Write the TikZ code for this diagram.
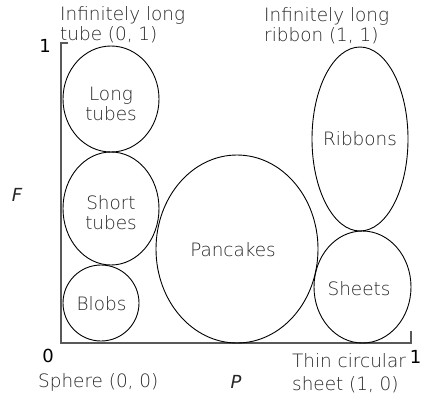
\documentclass[tikz,border=0pt]{standalone}
\usepackage{fontspec}
\setmainfont{DejaVu Sans}
\newfontfamily\lightfont{DejaVu Sans ExtraLight}
\begin{document}
\begin{tikzpicture}[x=1pt,y=-1pt,
  region/.style={draw=black,line width=0.9pt},
  lbl/.style={font=\lightfont\fontsize{18.4}{20}\selectfont,text=black!85,inner sep=0pt},
  axnum/.style={font=\fontsize{18}{20}\selectfont,text=black,inner sep=0pt},
  axvar/.style={font=\itshape\fontsize{18}{20}\selectfont,text=black!85,inner sep=0pt},
  axis/.style={draw=black!65,line width=1.3pt}]
\useasboundingbox (0,0) rectangle (422,400);
% axes
\coordinate (o) at (61,343);
\coordinate (ytop) at (61,43);
\coordinate (ytick) at (68,43);
\coordinate (xend) at (411,343);
\coordinate (xtick) at (411,331);
\draw[axis] (ytick) -- (ytop) -- (o) -- (xend) -- (xtick);
% regions
\draw[region] (111,99) ellipse[x radius=48,y radius=53];
\draw[region] (111,208.5) ellipse[x radius=48,y radius=56.5];
\draw[region] (101,303) ellipse[x radius=38,y radius=38];
\draw[region] (237,249) ellipse[x radius=81,y radius=94];
\draw[region] (360,139) ellipse[x radius=48,y radius=92];
\draw[region] (362.5,287) ellipse[x radius=48.5,y radius=56];
% region labels
\node[lbl,anchor=base] (lt1) at (111,100) {Long};
\node[lbl,anchor=base] (lt2) at (111,120) {tubes};
\node[lbl,anchor=base] (st1) at (111,209) {Short};
\node[lbl,anchor=base] (st2) at (111,229) {tubes};
\node[lbl,anchor=base] (bl) at (101.5,310) {Blobs};
\node[lbl,anchor=base] (pc) at (233,256) {Pancakes};
\node[lbl,anchor=base] (rb) at (360,145) {Ribbons};
\node[lbl,anchor=base] (sh) at (359,295) {Sheets};
% corner labels
\node[lbl,anchor=base west] (il1) at (60,20) {Infinitely long};
\node[lbl,anchor=base west] (il2) at (60,40) {tube (0, 1)};
\node[lbl,anchor=base west] (ir1) at (264,21) {Infinitely long};
\node[lbl,anchor=base west] (ir2) at (264,41) {ribbon (1, 1)};
\node[lbl,anchor=base west] (sp) at (38,387) {Sphere (0, 0)};
\node[lbl,anchor=base west] (tc1) at (292,367) {Thin circular};
\node[lbl,anchor=base west] (tc2) at (292,390) {sheet (1, 0)};
% axis numbers and variables
\node[axnum] (n1y) at (45,46) {1};
\node[axnum] (n0) at (48,356) {0};
\node[axnum] (n1x) at (415.5,357) {1};
\node[axvar] (F) at (17,195) {F};
\node[axvar] (P) at (236,382) {P};
\end{tikzpicture}
\end{document}
